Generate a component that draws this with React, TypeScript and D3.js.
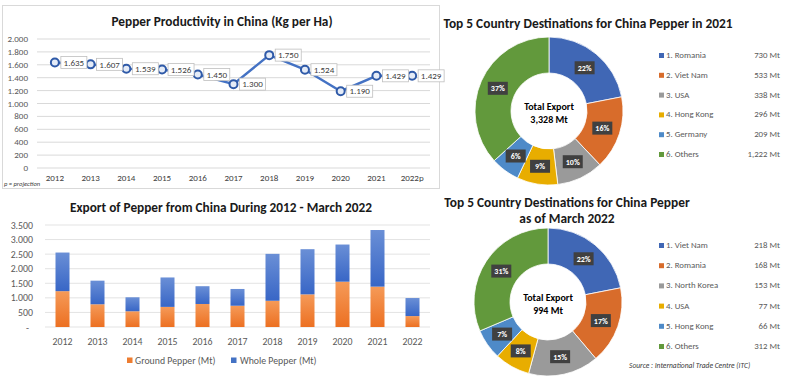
import React from "react";
import * as d3 from "d3";

// line chart data
const prodYears = ["2012", "2013", "2014", "2015", "2016", "2017", "2018", "2019", "2020", "2021", "2022p"];
const productivity = [1635, 1607, 1539, 1526, 1450, 1300, 1750, 1524, 1190, 1429, 1429];

// stacked bars
const exportYears = ["2012", "2013", "2014", "2015", "2016", "2017", "2018", "2019", "2020", "2021", "2022"];
const groundPepper = [1230, 780, 540, 690, 790, 730, 900, 1120, 1555, 1385, 375];
const wholePepper = [1325, 810, 480, 1010, 610, 575, 1610, 1550, 1275, 1943, 619];

// donuts
const countries2021 = ["1. Romania", "2. Viet Nam", "3. USA", "4. Hong Kong", "5. Germany", "6. Others"];
const values2021 = [730, 533, 338, 296, 209, 1222];
const countries2022 = ["1. Viet Nam", "2. Romania", "3. North Korea", "4. USA", "5. Hong Kong", "6. Others"];
const values2022 = [218, 168, 153, 77, 66, 312];
const colors2021 = ["#4067b5", "#d86c2b", "#9a9a9a", "#e8ad00", "#4e8ac8", "#62993c"];
const colors2022 = ["#4067b5", "#d86c2b", "#9a9a9a", "#e8ad00", "#4e8ac8", "#62993c"];

const FONT = "Carlito, Lato, 'Open Sans', sans-serif";
const dotLocale = d3.formatLocale({ decimal: ",", thousands: ".", grouping: [3], currency: ["", ""] });
const fmtDot = dotLocale.format(",.0f");
const fmtComma = d3.format(",.0f");

function LineChart() {
  const x = d3.scaleBand().domain(prodYears).range([37, 430]);
  const y = d3.scaleLinear().domain([0, 2000]).range([168, 39]);
  const cx = (d: string) => x(d)! + x.bandwidth() / 2;
  const line = d3.line<number>().x((_, i) => cx(prodYears[i])).y((v) => y(v));
  const ticks = d3.range(0, 2001, 200);
  return (
    <g>
      <rect x={2.5} y={5.5} width={437} height={183} fill="#fff" stroke="#d9d9d9" />
      <text x={222} y={26} textAnchor="middle" fontSize={13.3} fontWeight="bold" fill="#1a1a1a">
        Pepper Productivity in China (Kg per Ha)
      </text>
      {ticks.map((t) => (
        <g key={t}>
          <line x1={37} x2={430} y1={y(t)} y2={y(t)} stroke="#d9d9d9" strokeWidth={1} />
          <text x={28} y={y(t) + 3} textAnchor="end" fontSize={9} fill="#595959">
            {fmtDot(t)}
          </text>
        </g>
      ))}
      {prodYears.map((d) => (
        <text key={d} x={cx(d)} y={181} textAnchor="middle" fontSize={9} fill="#404040">
          {d}
        </text>
      ))}
      <text x={4} y={186} fontSize={6.5} fontStyle="italic" fill="#404040">
        p = projection
      </text>
      <path d={line(productivity)!} fill="none" stroke="#4472c4" strokeWidth={2.5} strokeLinejoin="round" />
      {productivity.map((v, i) => (
        <circle key={i} cx={cx(prodYears[i])} cy={y(v)} r={4} fill="#e4ebf7" stroke="#2f5aa8" strokeWidth={2} />
      ))}
      {productivity.map((v, i) => (
        <g key={i} transform={`translate(${cx(prodYears[i]) + 6},${y(v)})`}>
          <rect x={0} y={-6} width={26} height={12} fill="#fff" stroke="#bfbfbf" strokeWidth={0.8} />
          <text x={13} y={3.2} textAnchor="middle" fontSize={9} fill="#404040">
            {fmtDot(v)}
          </text>
        </g>
      ))}
    </g>
  );
}

function BarChart() {
  const x = d3.scaleBand().domain(exportYears).range([45, 430]).paddingInner(0.6).paddingOuter(0.3);
  const y = d3.scaleLinear().domain([0, 3500]).range([327, 225]);
  const stack = d3
    .stack<number>()
    .keys(["ground", "whole"])
    .value((i, k) => (k === "ground" ? groundPepper[i] : wholePepper[i]));
  const series = stack(d3.range(exportYears.length));
  const ticks = d3.range(0, 3501, 500);
  const fills = ["url(#gOrange)", "url(#gBlue)"];
  return (
    <g>
      <text x={221} y={212} textAnchor="middle" fontSize={13.3} fontWeight="bold" fill="#1a1a1a">
        Export of Pepper from China During 2012 - March 2022
      </text>
      {ticks.map((t) => (
        <g key={t}>
          <line x1={45} x2={430} y1={y(t)} y2={y(t)} stroke="#e3e3e3" />
          <text x={t === 0 ? 29 : 33} y={y(t) + 3.5} textAnchor="end" fontSize={9.8} fill="#595959">
            {t === 0 ? "-" : fmtDot(t)}
          </text>
        </g>
      ))}
      {series.map((s, si) =>
        s.map((p, i) => (
          <rect
            key={`${si}-${i}`}
            x={x(exportYears[i])}
            y={y(p[1])}
            width={x.bandwidth()}
            height={y(p[0]) - y(p[1])}
            fill={fills[si]}
          />
        ))
      )}
      {exportYears.map((d) => (
        <text key={d} x={x(d)! + x.bandwidth() / 2} y={344.5} textAnchor="middle" fontSize={9.8} fill="#595959">
          {d}
        </text>
      ))}
      <rect x={127} y={357.5} width={5.5} height={5.5} fill="#ed7d31" />
      <text x={135} y={364} fontSize={9.8} fill="#595959">
        Ground Pepper (Mt)
      </text>
      <rect x={231} y={357.5} width={5.5} height={5.5} fill="#4472c4" />
      <text x={240} y={364} fontSize={9.8} fill="#595959">
        Whole Pepper (Mt)
      </text>
    </g>
  );
}

function Donut(props: {
  cx: number;
  cy: number;
  names: string[];
  values: number[];
  colors: string[];
  legendY: number[];
}) {
  const { cx, cy, names, values, colors, legendY } = props;
  const total = d3.sum(values);
  const pie = d3.pie<number>().sort(null).value((v) => v);
  const arcs = pie(values);
  const outer = 74;
  const inner = 38;
  const arc = d3.arc<d3.PieArcDatum<number>>().innerRadius(inner).outerRadius(outer);
  const labelArc = d3.arc<d3.PieArcDatum<number>>().innerRadius(56).outerRadius(56);
  return (
    <g>
      <g transform={`translate(${cx},${cy})`}>
        {arcs.map((a, i) => (
          <path key={i} d={arc(a)!} fill={colors[i]} stroke="#fff" strokeWidth={0.8} />
        ))}
        {arcs.map((a, i) => {
          const [lx, ly] = labelArc.centroid(a);
          return (
            <g key={i} transform={`translate(${lx},${ly})`}>
              <rect x={-10} y={-6.5} width={20} height={13} fill="#404040" />
              <text x={0} y={3} textAnchor="middle" fontSize={8} fontWeight="bold" fill="#fff">
                {Math.round((a.data / total) * 100)}%
              </text>
            </g>
          );
        })}
        <text x={0} y={-1} textAnchor="middle" fontSize={10} fontWeight="bold" fill="#000">
          Total Export
        </text>
        <text x={0} y={12} textAnchor="middle" fontSize={10} fontWeight="bold" fill="#000">
          {fmtComma(total)} Mt
        </text>
      </g>
      {names.map((n, i) => (
        <g key={n}>
          <rect x={659} y={legendY[i] - 5} width={5} height={5} fill={colors[i]} />
          <text x={666} y={legendY[i]} fontSize={8.8} fill="#595959">
            {n}
          </text>
          <text x={780} y={legendY[i]} textAnchor="end" fontSize={8.8} fill="#595959">
            {fmtComma(values[i])} Mt
          </text>
        </g>
      ))}
    </g>
  );
}

export default function App() {
  const legend1 = d3.range(6).map((i) => 58 + i * 19.8);
  const legend2 = d3.range(6).map((i) => 248 + i * 20.2);
  return (
    <svg
      width={800}
      height={391}
      style={{ position: "absolute", left: 0, top: 0, background: "#fff", fontFamily: FONT }}
    >
      <defs>
        <linearGradient id="gOrange" x1="0" y1="0" x2="0" y2="1">
          <stop offset="0" stopColor="#f59a58" />
          <stop offset="1" stopColor="#ec7022" />
        </linearGradient>
        <linearGradient id="gBlue" x1="0" y1="0" x2="0" y2="1">
          <stop offset="0" stopColor="#6a8fd6" />
          <stop offset="1" stopColor="#3866c6" />
        </linearGradient>
      </defs>
      <LineChart />
      <BarChart />
      <text x={588} y={28} textAnchor="middle" fontSize={13.4} fontWeight="bold" fill="#1a1a1a">
        Top 5 Country Destinations for China Pepper in 2021
      </text>
      <Donut cx={549} cy={111} names={countries2021} values={values2021} colors={colors2021} legendY={legend1} />
      <text x={567} y={207} textAnchor="middle" fontSize={13.4} fontWeight="bold" fill="#1a1a1a">
        Top 5 Country Destinations for China Pepper
      </text>
      <text x={567} y={223} textAnchor="middle" fontSize={13.4} fontWeight="bold" fill="#1a1a1a">
        as of March 2022
      </text>
      <Donut cx={548} cy={302} names={countries2022} values={values2022} colors={colors2022} legendY={legend2} />
      <text x={629} y={368} fontSize={7.5} fontStyle="italic" fill="#404040">
        Source : International Trade Centre (ITC)
      </text>
    </svg>
  );
}
